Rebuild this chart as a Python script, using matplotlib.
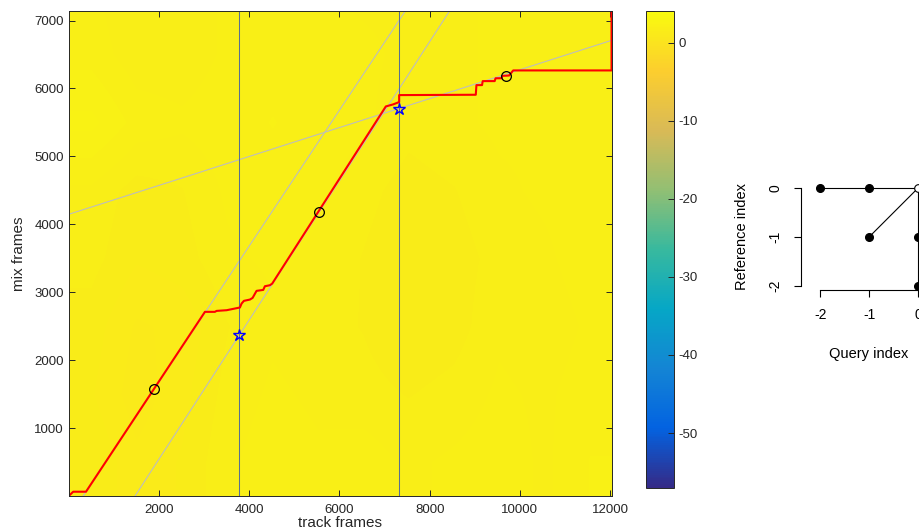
import numpy as np
import matplotlib
matplotlib.use("Agg")
import matplotlib.pyplot as plt
from matplotlib.colors import LinearSegmentedColormap

plt.rcParams['font.family'] = ['Liberation Sans', 'DejaVu Sans']
plt.rcParams['axes.unicode_minus'] = False

# cost matrix (coarse, 1000-frame bins, bottom row first)
cost = [
    [1.7, 1.3, 1.5, 1.9, 2.1, 2.0, 2.1, 1.9, 2.0, 2.1, 1.9, 2.2],
    [1.5, 1.1, 1.4, 1.8, 2.0, 1.9, 1.8, 1.7, 1.8, 2.0, 1.9, 2.1],
    [1.6, 1.2, 1.3, 1.7, 1.9, 1.8, 1.7, 1.5, 1.6, 1.9, 1.8, 2.0],
    [1.8, 1.5, 1.6, 1.9, 2.0, 1.9, 1.7, 1.5, 1.6, 1.8, 1.9, 2.1],
    [1.9, 1.6, 1.7, 2.0, 2.1, 2.0, 1.8, 1.6, 1.7, 1.9, 2.0, 2.1],
    [2.5, 2.1, 2.0, 2.1, 2.2, 2.1, 2.0, 1.8, 1.9, 2.0, 2.0, 2.1],
    [2.1, 1.8, 1.8, 2.0, 2.1, 2.0, 2.0, 1.9, 1.9, 2.0, 2.0, 2.1],
    [2.0, 1.7, 1.8, 2.0, 2.0, 2.0, 1.9, 1.9, 1.9, 2.0, 2.0, 2.1],
]
clim = (-57, 4.1)

# warping path
path_x = [0, 100, 383, 3019, 3240, 3277, 3499, 3610, 3794, 3831, 3883, 4016, 4075,
          4163, 4311, 4348, 4459, 4510, 7028, 7190, 7264, 7323, 7323, 9021, 9036,
          9160, 9175, 9440, 9460, 9590, 9610, 9760, 9850, 12030, 12030]
path_y = [0, 63, 63, 2711, 2711, 2725, 2735, 2750, 2775, 2833, 2873, 2892, 2916,
          3020, 3034, 3088, 3103, 3127, 5735, 5765, 5784, 5799, 5902, 5907, 6049,
          6049, 6108, 6108, 6150, 6150, 6185, 6190, 6265, 6265, 7140]

circle_x = [1900, 5544, 9690]
circle_y = [1580, 4180, 6190]
star_x = [3772, 7316]
star_y = [2368, 5691]

# guide lines (x0, y0, x1, y1)
guide_lines = [
    (320, 0, 7460, 7140),
    (1470, 0, 8440, 7140),
    (0, 4147, 12040, 6710),
]

# step pattern
step_segments = [
    ([-2, -1, 0], [0, 0, 0]),
    ([-1, 0], [-1, 0]),
    ([0, 0, 0], [-2, -1, 0]),
]
step_x = [-2, -1, -1, 0, 0]
step_y = [0, 0, -1, -1, -2]

parula = LinearSegmentedColormap.from_list('parula', [
    '#352a87', '#0363e1', '#1485d4', '#06a7c6', '#38b99e',
    '#92bf73', '#d9ba56', '#fcce2e', '#f9fb0e'])

W, H = 919, 532
fig = plt.figure(figsize=(W / 100, H / 100), dpi=100)

ax = fig.add_axes([68.7 / W, (H - 496) / H, 543.3 / W, 485 / H])
im = ax.imshow(np.array(cost), origin='lower', cmap=parula, vmin=clim[0], vmax=clim[1],
               extent=[0, 12040, 0, 8000], aspect='auto', interpolation='bilinear')
for x0, y0, x1, y1 in guide_lines:
    ax.plot([x0, x1], [y0, y1], color='#bdbdbd', lw=0.8)
for sx in star_x:
    ax.axvline(sx, color='#5a7090', lw=0.75)
ax.plot(path_x, path_y, color='#ff0000', lw=1.5)
ax.plot(circle_x, circle_y, 'o', ms=7, mfc='none', mec='black', mew=0.9)
ax.plot(star_x, star_y, '*', ms=9, mfc='none', mec='#0000ff', mew=1.0)
ax.set_xlim(0, 12040)
ax.set_ylim(0, 7140)
ax.set_xticks([2000, 4000, 6000, 8000, 10000, 12000])
ax.set_yticks([1000, 2000, 3000, 4000, 5000, 6000, 7000])
ax.tick_params(direction='in', top=True, right=True, length=4, width=0.7,
               labelsize=9.5, colors='#262626')
ax.tick_params(axis='x', pad=6)
for s in ax.spines.values():
    s.set_color('#262626')
    s.set_linewidth(0.7)
ax.set_xlabel('track frames', fontsize=11, color='#262626', labelpad=0)
ax.set_ylabel('mix frames', fontsize=11, color='#262626', labelpad=6)

cax = fig.add_axes([645.7 / W, (H - 487.7) / H, 28.3 / W, 477 / H])
cb = fig.colorbar(im, cax=cax, ticks=[0, -10, -20, -30, -40, -50])
cax.tick_params(direction='in', length=4, width=0.7, labelsize=9.5, colors='#262626')
cb.outline.set_edgecolor('#262626')
cb.outline.set_linewidth(0.7)

ax2 = fig.add_axes([800.7 / W, (H - 290) / H, 136.8 / W, 106 / H])
for sx, sy in step_segments:
    ax2.plot(sx, sy, color='black', lw=0.8)
ax2.plot(step_x, step_y, 'o', color='black', ms=5.5)
ax2.plot([0], [0], 'o', mfc='white', mec='black', ms=5.5, mew=0.8)
ax2.set_xlim(-2.4, 0.4)
ax2.set_ylim(-2.085, 0.085)
ax2.set_xticks([-2, -1, 0])
ax2.set_yticks([-2, -1, 0])
ax2.set_yticklabels(['-2', '-1', '0'], rotation=90, va='center')
ax2.spines['top'].set_visible(False)
ax2.spines['right'].set_visible(False)
ax2.spines['left'].set_bounds(-2, 0)
ax2.spines['bottom'].set_bounds(-2, 0)
ax2.patch.set_visible(False)
ax2.tick_params(direction='out', length=5, width=0.8, labelsize=10, pad=8)
ax2.set_xlabel('Query index', fontsize=10.5, labelpad=18)
ax2.set_ylabel('Reference index', fontsize=10.5, labelpad=14)

plt.savefig('out.png', dpi=100)
